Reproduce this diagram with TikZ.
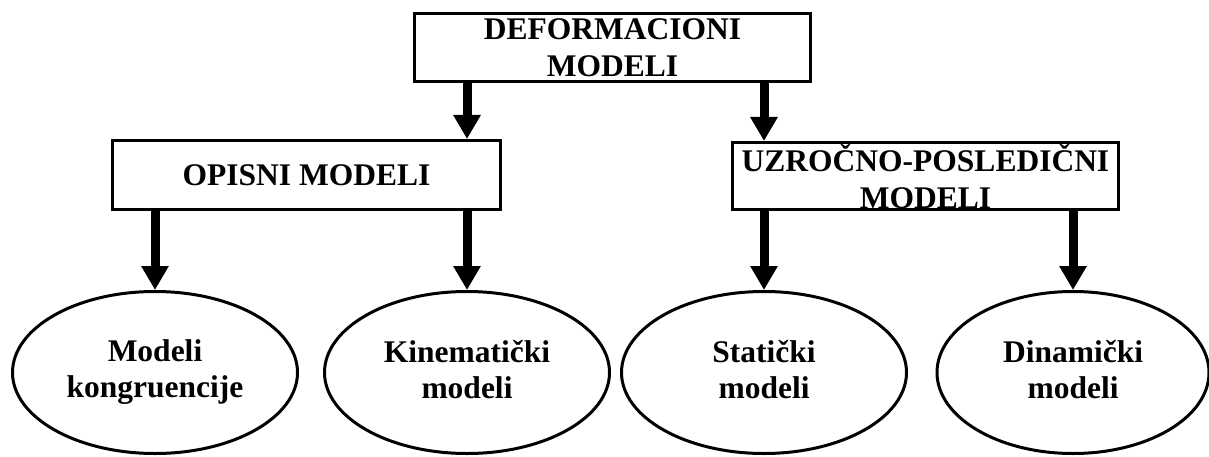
\documentclass[tikz,border=0pt]{standalone}
\usepackage{fontspec}
\setmainfont{Liberation Serif}
\usetikzlibrary{positioning,shapes.geometric,arrows.meta}

\begin{document}
\begin{tikzpicture}[x=1pt, y=-1pt,
    model/.style={rectangle, draw=black, line width=3pt, align=center, inner sep=0pt,
        font=\fontsize{31.5}{37}\selectfont\bfseries},
    leaf/.style={ellipse, draw=black, line width=3pt, align=center, inner sep=0pt,
        minimum width=285pt, minimum height=162pt,
        font=\fontsize{31.5}{36}\selectfont\bfseries,
        execute at begin node={\rule{0pt}{34pt}},
        execute at end node={\rule[-7pt]{0pt}{7pt}}},
    link/.style={line width=9pt, -{Triangle[width=26pt,length=24pt]}}
]
\useasboundingbox (0,0) rectangle (1209,457);

\node (Model00) [model, minimum width=396pt, minimum height=68pt] at (612.5,47.5) {DEFORMACIONI\\MODELI};
\node (Group01) [model, minimum width=388pt, minimum height=69pt] at (306.5,175) {OPISNI MODELI};
\node (Group02) [model, minimum width=386pt, minimum height=67pt] at (925.5,176) {UZRO\v{C}NO-POSLEDI\v{C}NI\\MODELI};

\node (Leaf01) [leaf] at (155,372.5) {Modeli\\kongruencije};
\node (Leaf02) [leaf] at (467,372.5) {Kinemati\v{c}ki\\modeli};
\node (Leaf03) [leaf] at (764,372.5) {Stati\v{c}ki\\modeli};
\node (Leaf04) [leaf, minimum width=272pt] at (1073,372.5) {Dinami\v{c}ki\\modeli};

% arrows
\draw [link] (Model00.south -| Leaf02.north) -- (Group01.north -| Leaf02.north);
\draw [link] (Model00.south -| Leaf03.north) -- (Group02.north -| Leaf03.north);
\draw [link] (Group01.south -| Leaf01.north) -- (Leaf01.north);
\draw [link] (Group01.south -| Leaf02.north) -- (Leaf02.north);
\draw [link] (Group02.south -| Leaf03.north) -- (Leaf03.north);
\draw [link] (Group02.south -| Leaf04.north) -- (Leaf04.north);
\end{tikzpicture}
\end{document}
